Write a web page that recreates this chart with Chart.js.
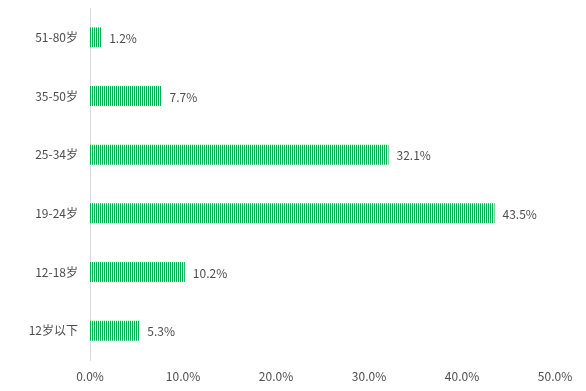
<!DOCTYPE html>
<html><head><meta charset="utf-8">
<script src="https://cdn.jsdelivr.net/npm/chart.js@4/dist/chart.umd.min.js"></script>
<style>html,body{margin:0;padding:0;background:#fff}#wrap{width:586px;height:391px}</style>
</head><body><div id="wrap"><canvas id="c" width="586" height="391"></canvas></div>
<script>
const categories = ["51-80岁","35-50岁","25-34岁","19-24岁","12-18岁","12岁以下"];
const values = [1.2, 7.7, 32.1, 43.5, 10.2, 5.3];
const tickLabels = ["0.0%","10.0%","20.0%","30.0%","40.0%","50.0%"];

const FONT = "'Noto Sans CJK SC','Noto Sans',sans-serif";
const TEXT = '#4d4d4d';

function makePattern(){
  const p = document.createElement('canvas');
  p.width = 2; p.height = 4;
  const g = p.getContext('2d');
  g.fillStyle = '#ffffff'; g.fillRect(0,0,2,4);
  g.fillStyle = '#00b050'; g.fillRect(0,0,1,4);
  return document.getElementById('c').getContext('2d').createPattern(p,'repeat');
}

const labelPlugin = {
  id:'vlabels',
  afterDatasetsDraw(chart){
    const ctx = chart.ctx;
    const meta = chart.getDatasetMeta(0);
    ctx.save();
    ctx.font = "12px " + FONT;
    ctx.fillStyle = TEXT;
    ctx.textAlign = 'left';
    ctx.textBaseline = 'middle';
    meta.data.forEach((bar,i)=>{
      ctx.fillText(values[i].toFixed(1)+'%', bar.x + 8, bar.y + 1);
    });
    ctx.restore();
  }
};

new Chart(document.getElementById('c'), {
  type:'bar',
  data:{labels:categories, datasets:[{data:values, backgroundColor:makePattern(), borderWidth:0, barPercentage:0.34, categoryPercentage:1.0}]},
  options:{
    indexAxis:'y', responsive:false, animation:false,
    layout:{padding:{left:0,right:31,top:8,bottom:0}},
    plugins:{legend:{display:false}, tooltip:{enabled:false}},
    scales:{
      x:{min:0,max:50,
        grid:{display:false, drawTicks:false},
        border:{display:false},
        afterFit(s){s.height = 31; s.paddingLeft = 0; s.paddingRight = 0;},
        ticks:{stepSize:10, padding:9, color:TEXT, font:{family:FONT,size:12},
          callback:(v,i)=>tickLabels[i]}
      },
      y:{
        grid:{display:false, drawTicks:false},
        border:{display:true, color:'#d9d9d9', width:1},
        afterFit(s){s.width = 90; s.paddingTop = 0; s.paddingBottom = 0;},
        ticks:{padding:12, color:TEXT, font:{family:FONT,size:12}}
      }
    }
  },
  plugins:[labelPlugin]
});
</script></body></html>
